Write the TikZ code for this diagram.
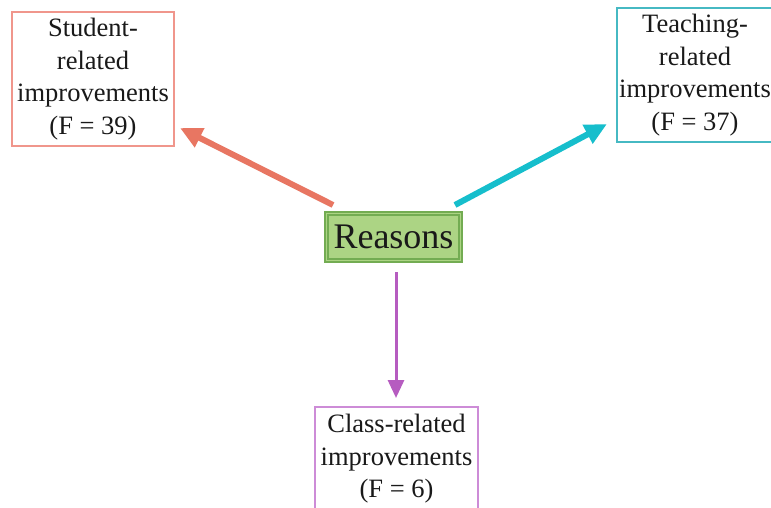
\documentclass[tikz,border=0pt]{standalone}
\usepackage{fontspec}
\setmainfont{Liberation Serif}
\usetikzlibrary{arrows.meta}
\definecolor{salm}{RGB}{232,118,98}
\definecolor{salmbox}{RGB}{240,150,140}
\definecolor{cyanar}{RGB}{22,190,204}
\definecolor{cyanbox}{RGB}{70,185,195}
\definecolor{purpar}{RGB}{182,92,192}
\definecolor{purpbox}{RGB}{205,140,215}
\definecolor{rfill}{RGB}{172,212,132}
\definecolor{rdraw}{RGB}{115,172,82}
\begin{document}
\begin{tikzpicture}[x=1pt,y=-1pt,
  catbox/.style={draw, line width=1.3pt, fill=white, align=center, inner sep=0pt,
    font=\fontsize{26.5}{32.5}\selectfont, text=black!90},
  arr/.style={line width=#1, -{Triangle[length=22pt,width=20pt]}}]
\useasboundingbox (0,0) rectangle (771,508);
\node[catbox, draw=salmbox, minimum width=162pt, minimum height=134pt] (stu) at (93,79)
  {Student-\\related\\improvements\\(F = 39)};
\node[catbox, draw=cyanbox, minimum width=156pt, minimum height=134pt] (tea) at (695,75)
  {Teaching-\\related\\improvements\\(F = 37)};
\node[catbox, draw=purpbox, minimum width=163pt, minimum height=104pt] (cls) at (396.5,459)
  {Class-related\\improvements\\(F = 6)};
\node[draw=rdraw, line width=1.2pt, double=rfill, double distance=1.8pt, fill=rfill,
  minimum width=134pt, minimum height=47pt, inner sep=0pt,
  font=\fontsize{36}{40}\selectfont, text=black!90] (rea) at (393.5,237) {Reasons};
\coordinate (s1) at (333,205);
\coordinate (s2) at (180,128);
\coordinate (t1) at (455,205);
\coordinate (t2) at (607,124);
\coordinate (c1) at (396,272);
\coordinate (c2) at (396,398);
\draw[arr=6pt, salm] (s1) -- (s2);
\draw[arr=6pt, cyanar] (t1) -- (t2);
\draw[purpar, line width=3pt, -{Triangle[length=18pt,width=16pt]}] (c1) -- (c2);
\end{tikzpicture}
\end{document}
